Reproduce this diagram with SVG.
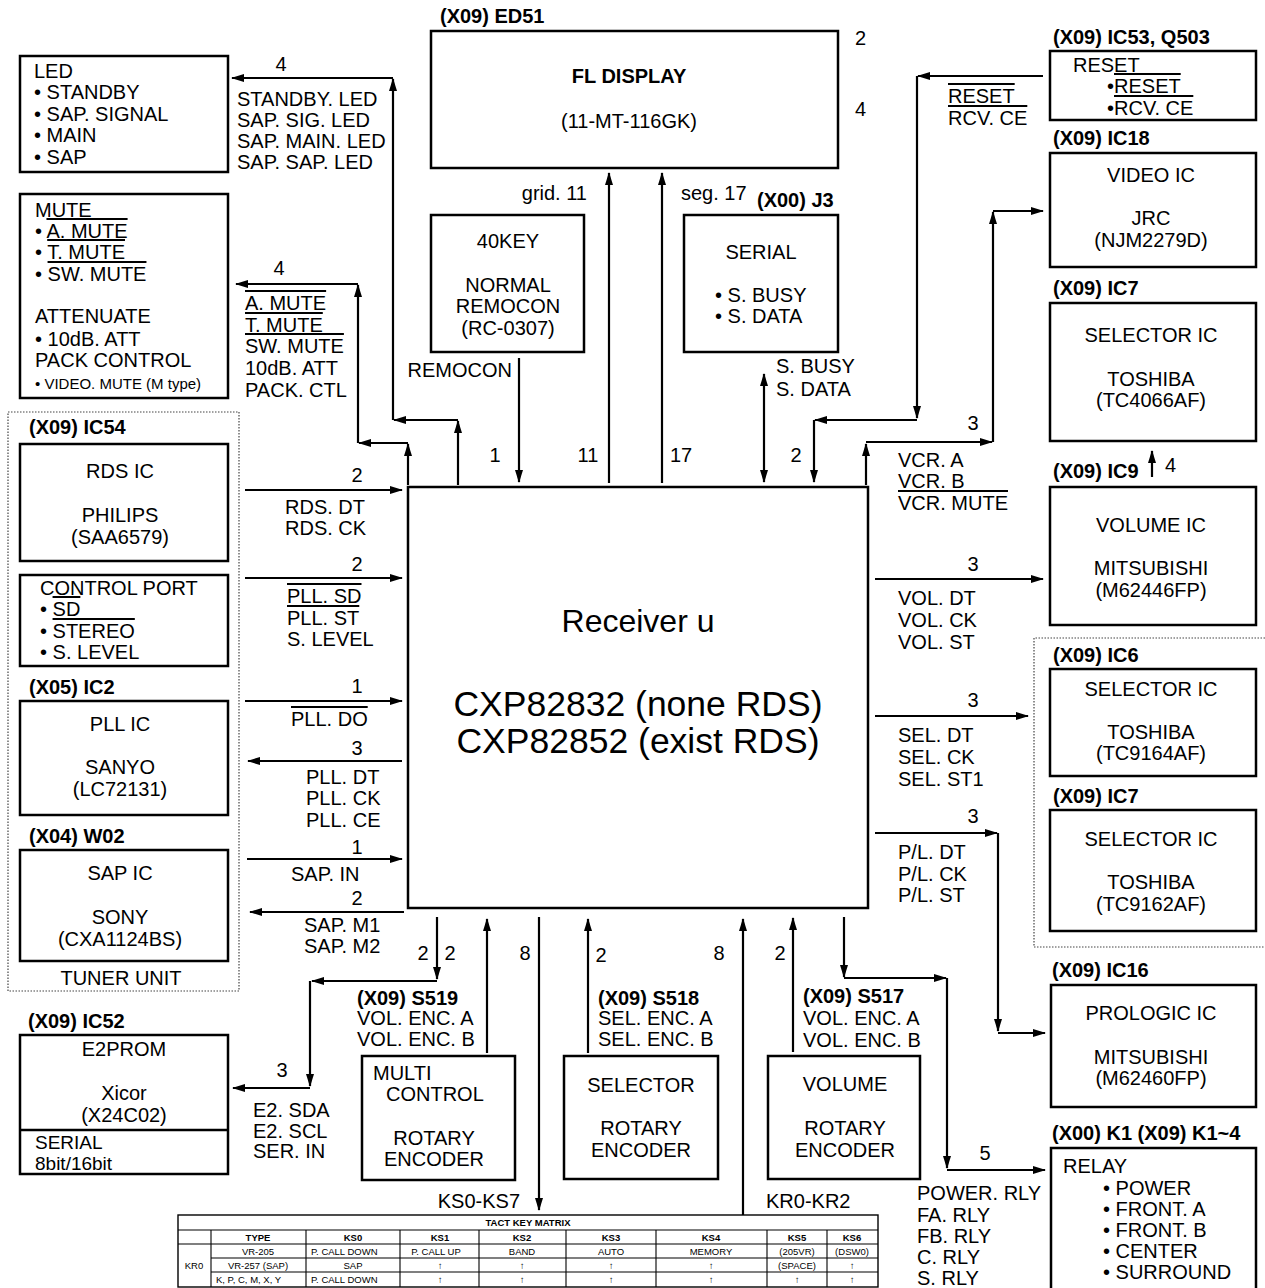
<svg xmlns="http://www.w3.org/2000/svg" width="1265" height="1288" viewBox="0 0 1265 1288">
<style>
text{font-family:"Liberation Sans",Arial,sans-serif;font-size:20px;fill:#000}
.b{font-weight:bold}
.m{text-anchor:middle}
.e{text-anchor:end}
.s{font-size:15px}
.big{font-size:35.5px}
.tb{font-size:9.5px}
.tbb{font-size:9.5px;font-weight:bold}
.o{text-decoration:overline}
.box{fill:none;stroke:#000;stroke-width:2.5}
.dot{fill:none;stroke:#444;stroke-width:1.2;stroke-dasharray:1.5 1.5}
.ln{fill:none;stroke:#000;stroke-width:2.2}
.a{fill:none;stroke:#000;stroke-width:2.2;marker-end:url(#ah)}
.a2{fill:none;stroke:#000;stroke-width:2.2;marker-end:url(#ah);marker-start:url(#ah)}
.tl{fill:none;stroke:#000;stroke-width:1.1}
</style>
<defs>
<marker id="ah" markerWidth="13" markerHeight="8" refX="12" refY="4" orient="auto-start-reverse" markerUnits="userSpaceOnUse"><path d="M0,0 L13,4 L0,8 z" fill="#000"/></marker>
</defs>
<rect width="1265" height="1288" fill="#fff"/>

<!-- containers -->
<g id="tuner-unit">
<rect class="dot" x="8" y="412" width="231" height="579"/>
<text class="m" x="121" y="985">TUNER UNIT</text>
</g>
<path class="dot" d="M1265,638 H1034 V947 H1265"/>

<g id="led">
<rect class="box" x="20" y="56" width="208" height="116"/>
<text x="34" y="78">LED</text>
<text x="34" y="99">• STANDBY</text>
<text x="34" y="121">• SAP. SIGNAL</text>
<text x="34" y="142">• MAIN</text>
<text x="34" y="164">• SAP</text>
</g>

<g id="mute">
<rect class="box" x="20" y="194" width="208" height="204"/>
<text x="35" y="217">MUTE</text>
<text x="35" y="238">• <tspan class="o">A. MUTE</tspan></text>
<text x="35" y="259">• <tspan class="o">T. MUTE</tspan></text>
<text x="35" y="281">• <tspan class="o">SW. MUTE</tspan></text>
<text x="35" y="323">ATTENUATE</text>
<text x="35" y="346">• 10dB. ATT</text>
<text x="35" y="367">PACK CONTROL</text>
<text class="s" x="35" y="389">• VIDEO. MUTE (M type)</text>
</g>

<g id="rds-ic">
<text class="b" x="29" y="434">(X09) IC54</text>
<rect class="box" x="20" y="444" width="208" height="117"/>
<text class="m" x="120" y="478">RDS IC</text>
<text class="m" x="120" y="522">PHILIPS</text>
<text class="m" x="120" y="544">(SAA6579)</text>
</g>

<g id="control-port">
<rect class="box" x="20" y="575" width="208" height="91"/>
<text x="40" y="595">CONTROL PORT</text>
<text x="40" y="616">• <tspan class="o">SD</tspan></text>
<text x="40" y="638">• <tspan class="o">STEREO</tspan></text>
<text x="40" y="659">• S. LEVEL</text>
</g>

<g id="pll-ic">
<text class="b" x="29" y="694">(X05) IC2</text>
<rect class="box" x="20" y="701" width="208" height="114"/>
<text class="m" x="120" y="731">PLL IC</text>
<text class="m" x="120" y="774">SANYO</text>
<text class="m" x="120" y="796">(LC72131)</text>
</g>

<g id="sap-ic">
<text class="b" x="29" y="843">(X04) W02</text>
<rect class="box" x="20" y="850" width="208" height="111"/>
<text class="m" x="120" y="880">SAP IC</text>
<text class="m" x="120" y="924">SONY</text>
<text class="m" x="120" y="946">(CXA1124BS)</text>
</g>

<g id="e2prom">
<text class="b" x="28" y="1028">(X09) IC52</text>
<rect class="box" x="20" y="1035" width="208" height="139"/>
<line class="box" x1="20" y1="1130" x2="228" y2="1130"/>
<text class="m" x="124" y="1056">E2PROM</text>
<text class="m" x="124" y="1100">Xicor</text>
<text class="m" x="124" y="1122">(X24C02)</text>
<text x="35" y="1149" style="font-size:19px">SERIAL</text>
<text x="35" y="1170" style="font-size:19px">8bit/16bit</text>
</g>

<g id="fl-display">
<text class="b" x="440" y="23">(X09) ED51</text>
<rect class="box" x="431" y="31" width="407" height="137"/>
<text class="b m" x="629" y="83">FL DISPLAY</text>
<text class="m" x="629" y="128">(11-MT-116GK)</text>
</g>

<g id="remocon">
<rect class="box" x="431" y="215" width="153" height="137"/>
<text class="m" x="508" y="248">40KEY</text>
<text class="m" x="508" y="292">NORMAL</text>
<text class="m" x="508" y="313">REMOCON</text>
<text class="m" x="508" y="335">(RC-0307)</text>
</g>

<g id="serial">
<text class="b" x="757" y="207">(X00) J3</text>
<rect class="box" x="684" y="215" width="154" height="137"/>
<text class="m" x="761" y="259">SERIAL</text>
<text x="715" y="302">• S. BUSY</text>
<text x="715" y="323">• S. DATA</text>
</g>

<g id="receiver">
<rect class="box" x="408" y="487" width="460" height="421"/>
<text class="m" x="638" y="632" style="font-size:32px">Receiver u</text>
<text class="m big" x="638" y="716">CXP82832 (none RDS)</text>
<text class="m big" x="638" y="753">CXP82852 (exist RDS)</text>
</g>

<g id="reset">
<text class="b" x="1053" y="44">(X09) IC53, Q503</text>
<rect class="box" x="1050" y="51" width="206" height="69"/>
<text x="1073" y="72">RESET</text>
<text x="1107" y="93">•<tspan class="o">RESET</tspan></text>
<text x="1107" y="115">•<tspan class="o">RCV. CE</tspan></text>
</g>

<g id="video-ic">
<text class="b" x="1053" y="145">(X09) IC18</text>
<rect class="box" x="1050" y="153" width="206" height="114"/>
<text class="m" x="1151" y="182">VIDEO IC</text>
<text class="m" x="1151" y="225">JRC</text>
<text class="m" x="1151" y="247">(NJM2279D)</text>
</g>

<g id="selector-ic-4066">
<text class="b" x="1053" y="295">(X09) IC7</text>
<rect class="box" x="1050" y="303" width="206" height="138"/>
<text class="m" x="1151" y="342">SELECTOR IC</text>
<text class="m" x="1151" y="386">TOSHIBA</text>
<text class="m" x="1151" y="407">(TC4066AF)</text>
</g>

<g id="volume-ic">
<text class="b" x="1053" y="478">(X09) IC9</text>
<rect class="box" x="1050" y="487" width="206" height="138"/>
<text class="m" x="1151" y="532">VOLUME IC</text>
<text class="m" x="1151" y="575">MITSUBISHI</text>
<text class="m" x="1151" y="597">(M62446FP)</text>
</g>

<g id="selector-ic-9164">
<text class="b" x="1053" y="662">(X09) IC6</text>
<rect class="box" x="1050" y="669" width="206" height="107"/>
<text class="m" x="1151" y="696">SELECTOR IC</text>
<text class="m" x="1151" y="739">TOSHIBA</text>
<text class="m" x="1151" y="760">(TC9164AF)</text>
</g>

<g id="selector-ic-9162">
<text class="b" x="1053" y="803">(X09) IC7</text>
<rect class="box" x="1050" y="810" width="206" height="121"/>
<text class="m" x="1151" y="846">SELECTOR IC</text>
<text class="m" x="1151" y="889">TOSHIBA</text>
<text class="m" x="1151" y="911">(TC9162AF)</text>
</g>

<g id="prologic-ic">
<text class="b" x="1052" y="977">(X09) IC16</text>
<rect class="box" x="1051" y="985" width="205" height="122"/>
<text class="m" x="1151" y="1020">PROLOGIC IC</text>
<text class="m" x="1151" y="1064">MITSUBISHI</text>
<text class="m" x="1151" y="1085">(M62460FP)</text>
</g>

<g id="relay">
<text class="b" x="1052" y="1140">(X00) K1 (X09) K1~4</text>
<rect class="box" x="1051" y="1148" width="205" height="170"/>
<text x="1063" y="1173">RELAY</text>
<text x="1103" y="1195">• POWER</text>
<text x="1103" y="1216">• FRONT. A</text>
<text x="1103" y="1237">• FRONT. B</text>
<text x="1103" y="1258">• CENTER</text>
<text x="1103" y="1279">• SURROUND</text>
</g>

<g id="multi-control">
<text class="b" x="357" y="1005">(X09) S519</text>
<text x="357" y="1025">VOL. ENC. A</text>
<text x="357" y="1046">VOL. ENC. B</text>
<rect class="box" x="362" y="1056" width="153" height="124"/>
<text x="373" y="1080">MULTI</text>
<text x="386" y="1101">CONTROL</text>
<text class="m" x="434" y="1145">ROTARY</text>
<text class="m" x="434" y="1166">ENCODER</text>
</g>

<g id="selector-encoder">
<text class="b" x="598" y="1005">(X09) S518</text>
<text x="598" y="1025">SEL. ENC. A</text>
<text x="598" y="1046">SEL. ENC. B</text>
<rect class="box" x="564" y="1056" width="154" height="123"/>
<text class="m" x="641" y="1092">SELECTOR</text>
<text class="m" x="641" y="1135">ROTARY</text>
<text class="m" x="641" y="1157">ENCODER</text>
</g>

<g id="volume-encoder">
<text class="b" x="803" y="1003">(X09) S517</text>
<text x="803" y="1025">VOL. ENC. A</text>
<text x="803" y="1047">VOL. ENC. B</text>
<rect class="box" x="768" y="1056" width="152" height="123"/>
<text class="m" x="845" y="1091">VOLUME</text>
<text class="m" x="845" y="1135">ROTARY</text>
<text class="m" x="845" y="1157">ENCODER</text>
</g>

<g id="tact-key-matrix">
<rect x="178" y="1215" width="700" height="72" fill="none" stroke="#000" stroke-width="1.4"/>
<path class="tl" d="M178,1230 H878 M178,1244 H878 M211,1258 H878 M211,1272 H878 M211,1230 V1287 M306,1230 V1287 M400,1230 V1287 M479,1230 V1287 M566,1230 V1287 M656,1230 V1287 M767,1230 V1287 M827,1230 V1287"/>
<text class="tbb m" x="528" y="1226">TACT KEY MATRIX</text>
<text class="tbb m" x="258" y="1241">TYPE</text>
<text class="tbb m" x="353" y="1241">KS0</text>
<text class="tbb m" x="440" y="1241">KS1</text>
<text class="tbb m" x="522" y="1241">KS2</text>
<text class="tbb m" x="611" y="1241">KS3</text>
<text class="tbb m" x="711" y="1241">KS4</text>
<text class="tbb m" x="797" y="1241">KS5</text>
<text class="tbb m" x="852" y="1241">KS6</text>
<text class="tb m" x="194" y="1269">KR0</text>
<text class="tb m" x="258" y="1255">VR-205</text>
<text class="tb" x="311" y="1255">P. CALL DOWN</text>
<text class="tb m" x="436" y="1255">P. CALL UP</text>
<text class="tb m" x="522" y="1255">BAND</text>
<text class="tb m" x="611" y="1255">AUTO</text>
<text class="tb m" x="711" y="1255">MEMORY</text>
<text class="tb m" x="797" y="1255">(205VR)</text>
<text class="tb m" x="852" y="1255">(DSW0)</text>
<text class="tb m" x="258" y="1269">VR-257 (SAP)</text>
<text class="tb m" x="353" y="1269">SAP</text>
<text class="tb m" x="440" y="1269">↑</text>
<text class="tb m" x="522" y="1269">↑</text>
<text class="tb m" x="611" y="1269">↑</text>
<text class="tb m" x="711" y="1269">↑</text>
<text class="tb m" x="797" y="1269">(SPACE)</text>
<text class="tb m" x="852" y="1269">↑</text>
<text class="tb" x="216" y="1283">K, P, C, M, X, Y</text>
<text class="tb" x="311" y="1283">P. CALL DOWN</text>
<text class="tb m" x="440" y="1283">↑</text>
<text class="tb m" x="522" y="1283">↑</text>
<text class="tb m" x="611" y="1283">↑</text>
<text class="tb m" x="711" y="1283">↑</text>
<text class="tb m" x="797" y="1283">↑</text>
<text class="tb m" x="852" y="1283">↑</text>
</g>

<g id="connectors">
<!-- LED -->
<path class="a" d="M458,485 V421"/>
<path class="a" d="M458,420 H394"/>
<path class="a" d="M393,420 V79"/>
<path class="a" d="M393,78 H232"/>
<text class="m" x="281" y="71">4</text>
<text x="237" y="106">STANDBY. LED</text>
<text x="237" y="127">SAP. SIG. LED</text>
<text x="237" y="148">SAP. MAIN. LED</text>
<text x="237" y="169">SAP. SAP. LED</text>
<!-- MUTE -->
<path class="a" d="M408,485 V444"/>
<path class="a" d="M408,443 H359"/>
<path class="a" d="M358,443 V285"/>
<path class="a" d="M358,284 H236"/>
<text class="m" x="279" y="275">4</text>
<text class="o" x="245" y="310">A. MUTE</text>
<text class="o" x="245" y="332">T. MUTE</text>
<text class="o" x="245" y="353">SW. MUTE</text>
<text x="245" y="375">10dB. ATT</text>
<text x="245" y="397">PACK. CTL</text>
<!-- REMOCON -->
<path class="a" d="M519,358 V482"/>
<text class="e" x="512" y="377">REMOCON</text>
<text class="m" x="495" y="462">1</text>
<!-- grid / seg -->
<path class="a" d="M609,483 V173"/>
<path class="a" d="M662,483 V173"/>
<text class="e" x="587" y="200">grid. 11</text>
<text x="681" y="200">seg. 17</text>
<text class="m" x="588" y="462">11</text>
<text class="m" x="681" y="462">17</text>
<!-- serial -->
<path class="a2" d="M764,374 V482"/>
<text x="776" y="373">S. BUSY</text>
<text x="776" y="396">S. DATA</text>
<text class="m" x="796" y="462">2</text>
<!-- reset -->
<path class="a" d="M1043,76 H918"/>
<path class="a" d="M917,76 V418"/>
<path class="a" d="M917,420 H815"/>
<path class="a" d="M814,420 V482"/>
<text x="855" y="45">2</text>
<text x="855" y="116">4</text>
<text class="o" x="948" y="103">RESET</text>
<text class="o" x="948" y="125">RCV. CE</text>
<!-- VCR -->
<path class="a" d="M866,485 V444"/>
<path class="a" d="M866,442 H992"/>
<path class="a" d="M993,442 V212"/>
<path class="a" d="M993,211 H1043"/>
<text class="m" x="973" y="430">3</text>
<text x="898" y="467">VCR. A</text>
<text x="898" y="488">VCR. B</text>
<text class="o" x="898" y="510">VCR. MUTE</text>
<path class="a" d="M1152,477 V451"/>
<text x="1165" y="472">4</text>
<!-- VOL -->
<path class="a" d="M875,579 H1043"/>
<text class="m" x="973" y="571">3</text>
<text x="898" y="605">VOL. DT</text>
<text x="898" y="627">VOL. CK</text>
<text x="898" y="649">VOL. ST</text>
<!-- SEL -->
<path class="a" d="M875,716 H1028"/>
<text class="m" x="973" y="707">3</text>
<text x="898" y="742">SEL. DT</text>
<text x="898" y="764">SEL. CK</text>
<text x="898" y="786">SEL. ST1</text>
<!-- P/L -->
<path class="a" d="M875,833 H997"/>
<path class="a" d="M998,833 V1031"/>
<path class="a" d="M998,1033 H1045"/>
<text class="m" x="973" y="823">3</text>
<text x="898" y="859">P/L. DT</text>
<text x="898" y="881">P/L. CK</text>
<text x="898" y="902">P/L. ST</text>
<!-- tuner side -->
<path class="a" d="M245,490 H402"/>
<text class="m" x="357" y="482">2</text>
<text x="285" y="514">RDS. DT</text>
<text x="285" y="535">RDS. CK</text>
<path class="a" d="M245,578 H402"/>
<text class="m" x="357" y="571">2</text>
<text class="o" x="287" y="603">PLL. SD</text>
<text class="o" x="287" y="625">PLL. ST</text>
<text x="287" y="646">S. LEVEL</text>
<path class="a" d="M245,701 H402"/>
<text class="m" x="357" y="693">1</text>
<text class="o" x="291" y="726">PLL. DO</text>
<path class="a" d="M402,761 H248"/>
<text class="m" x="357" y="755">3</text>
<text x="306" y="784">PLL. DT</text>
<text x="306" y="805">PLL. CK</text>
<text x="306" y="827">PLL. CE</text>
<path class="a" d="M247,859 H402"/>
<text class="m" x="357" y="854">1</text>
<text x="291" y="881">SAP. IN</text>
<path class="a" d="M404,912 H250"/>
<text class="m" x="357" y="905">2</text>
<text x="304" y="932">SAP. M1</text>
<text x="304" y="953">SAP. M2</text>
<!-- E2PROM -->
<path class="a" d="M437,917 V979"/>
<path class="a" d="M437,981 H312"/>
<path class="a" d="M310,981 V1086"/>
<path class="a" d="M310,1088 H233"/>
<text class="m" x="423" y="960">2</text>
<text class="m" x="450" y="960">2</text>
<text class="m" x="282" y="1077">3</text>
<text x="253" y="1117">E2. SDA</text>
<text x="253" y="1138">E2. SCL</text>
<text x="253" y="1158">SER. IN</text>
<!-- encoders / key matrix -->
<path class="a" d="M487,1053 V919"/>
<path class="a" d="M539,917 V1210"/>
<text class="m" x="525" y="960">8</text>
<text class="e" x="520" y="1208">KS0-KS7</text>
<path class="a" d="M588,1053 V919"/>
<text class="m" x="601" y="962">2</text>
<path class="a" d="M743,1215 V919"/>
<text class="m" x="719" y="960">8</text>
<text x="766" y="1208">KR0-KR2</text>
<path class="a" d="M793,1052 V918"/>
<text class="m" x="780" y="960">2</text>
<!-- relay -->
<path class="a" d="M844,917 V977"/>
<path class="a" d="M844,978 H946"/>
<path class="a" d="M947,978 V1168"/>
<path class="a" d="M947,1170 H1045"/>
<text class="m" x="985" y="1160">5</text>
<text x="917" y="1200">POWER. RLY</text>
<text x="917" y="1222">FA. RLY</text>
<text x="917" y="1243">FB. RLY</text>
<text x="917" y="1264">C. RLY</text>
<text x="917" y="1285">S. RLY</text>
</g>
</svg>
